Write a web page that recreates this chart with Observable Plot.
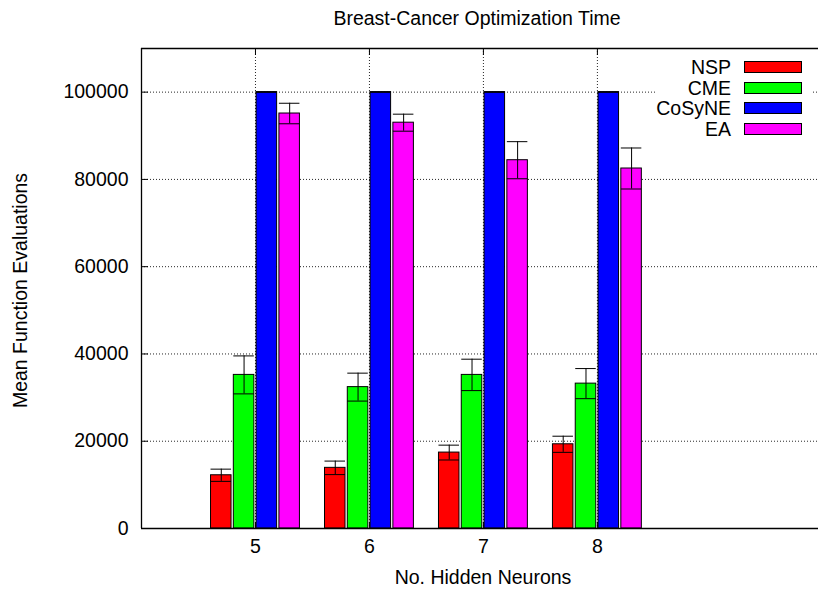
<!DOCTYPE html>
<html>
<head>
<meta charset="utf-8">
<script src="https://cdn.jsdelivr.net/npm/d3@7"></script>
<script src="https://cdn.jsdelivr.net/npm/@observablehq/plot@0.6"></script>
<style>
  html, body { margin: 0; padding: 0; background: white; }
  #wrap { position: relative; width: 818px; height: 589px; overflow: hidden; font-family: "Liberation Sans", Arial, sans-serif; }
  #legend { position: absolute; left: 657px; top: 52px; width: 156px; height: 88px; background: white; }
  .row { position: absolute; left: 0; width: 156px; height: 20px; }
  .lab { position: absolute; right: 82px; top: 0; font-size: 19.5px; line-height: 20px; color: #000; white-space: nowrap; }
  .sw { position: absolute; left: 87px; top: 4px; width: 56px; height: 10px; border: 1px solid #000; }
</style>
</head>
<body>
<div id="wrap"></div>
<script>
// ---- data ----
const neurons = [5, 6, 7, 8];
const series = ["NSP", "CME", "CoSyNE", "EA"];
const seriesColors = ["#ff0000", "#00ff00", "#0000ff", "#ff00ff"];
const nspMean = [12200, 13900, 17400, 19300];
const nspErr = [1400, 1550, 1700, 1850];
const cmeMean = [35200, 32400, 35200, 33200];
const cmeErr = [4350, 3200, 3600, 3450];
const cosyneMean = [100000, 100000, 100000, 100000];
const cosyneErr = [0, 0, 0, 0];
const eaMean = [95100, 93000, 84400, 82500];
const eaErr = [2350, 1950, 4250, 4700];
const yTicks = [0, 20000, 40000, 60000, 80000, 100000];
const titleText = "Breast-Cancer Optimization Time";
const xLabel = "No. Hidden Neurons";
const yLabel = "Mean Function Evaluations";

const means = [nspMean, cmeMean, cosyneMean, eaMean];
const errs = [nspErr, cmeErr, cosyneErr, eaErr];
const rows = [];
neurons.forEach((n, i) => {
  series.forEach((s, si) => {
    rows.push({n, s, si, mean: means[si][i], err: errs[si][i]});
  });
});

const barStep = 0.2, barPad = 0.01;
const bx1 = d => d.n + (d.si - 2) * barStep + barPad;
const bx2 = d => d.n + (d.si - 1) * barStep - barPad;
const bxc = d => d.n + (d.si - 1.5) * barStep;

const dotted = {stroke: "#000", strokeDasharray: "1,2", strokeWidth: 1, strokeOpacity: 0.85};

const chart = Plot.plot({
  width: 818,
  height: 589,
  marginLeft: 141,
  marginRight: 0,
  marginTop: 48,
  marginBottom: 61,
  style: {fontFamily: "'Liberation Sans', Arial, sans-serif", fontSize: "19.5px", background: "white", color: "#000"},
  x: {domain: [4, 9.94]},
  y: {domain: [0, 110000]},
  color: {domain: series, range: seriesColors},
  marks: [
    Plot.ruleY(yTicks.filter(v => v > 0), dotted),
    Plot.ruleX(neurons, dotted),
    Plot.rect(rows, {x1: bx1, x2: bx2, y1: 0, y2: "mean", fill: "s", stroke: "#000", strokeWidth: 1}),
    Plot.ruleX(rows, {x: bxc, y1: d => d.mean - d.err, y2: d => d.mean + d.err, stroke: "#000", strokeWidth: 1}),
    Plot.ruleY(rows, {x1: bx1, x2: bx2, y: d => d.mean + d.err, stroke: "#000", strokeWidth: 1}),
    Plot.ruleY(rows, {x1: bx1, x2: bx2, y: d => d.mean - d.err, stroke: "#000", strokeWidth: 1}),
    Plot.ruleX([4], {stroke: "#000", strokeWidth: 1.3}),
    Plot.ruleY([0, 110000], {stroke: "#000", strokeWidth: 1.3}),
    Plot.axisY(yTicks, {tickSize: 7, dx: 7, tickFormat: () => "", label: null}),
    Plot.axisY(yTicks, {tickSize: 0, tickPadding: 13, tickFormat: d3.format("d"), label: null}),
    Plot.axisX(neurons, {tickSize: 6, dy: -6, tickFormat: () => "", label: null}),
    Plot.axisX(neurons, {anchor: "top", tickSize: 6, dy: 6, tickFormat: () => "", label: null}),
    Plot.axisX(neurons, {tickSize: 0, tickPadding: 11, tickFormat: d3.format("d"), label: null}),
    Plot.text([titleText], {frameAnchor: "top", dy: -30, dx: -3, lineAnchor: "middle", fill: "#000"}),
    Plot.text([xLabel], {frameAnchor: "bottom", dy: 49, dx: 3, lineAnchor: "middle", fill: "#000"}),
    Plot.text([yLabel], {frameAnchor: "left", textAnchor: "middle", dx: -121, dy: 2, rotate: -90, lineAnchor: "middle", fill: "#000"})
  ]
});

const wrap = document.getElementById("wrap");
wrap.appendChild(chart);

// legend (gnuplot key, drawn inside plot area)
const legend = document.createElement("div");
legend.id = "legend";
series.forEach((s, i) => {
  const row = document.createElement("div");
  row.className = "row";
  row.style.top = (5 + i * 20.5) + "px";
  const lab = document.createElement("span");
  lab.className = "lab";
  lab.textContent = s;
  const sw = document.createElement("span");
  sw.className = "sw";
  sw.style.background = seriesColors[i];
  row.appendChild(lab);
  row.appendChild(sw);
  legend.appendChild(row);
});
wrap.appendChild(legend);
</script>
</body>
</html>
